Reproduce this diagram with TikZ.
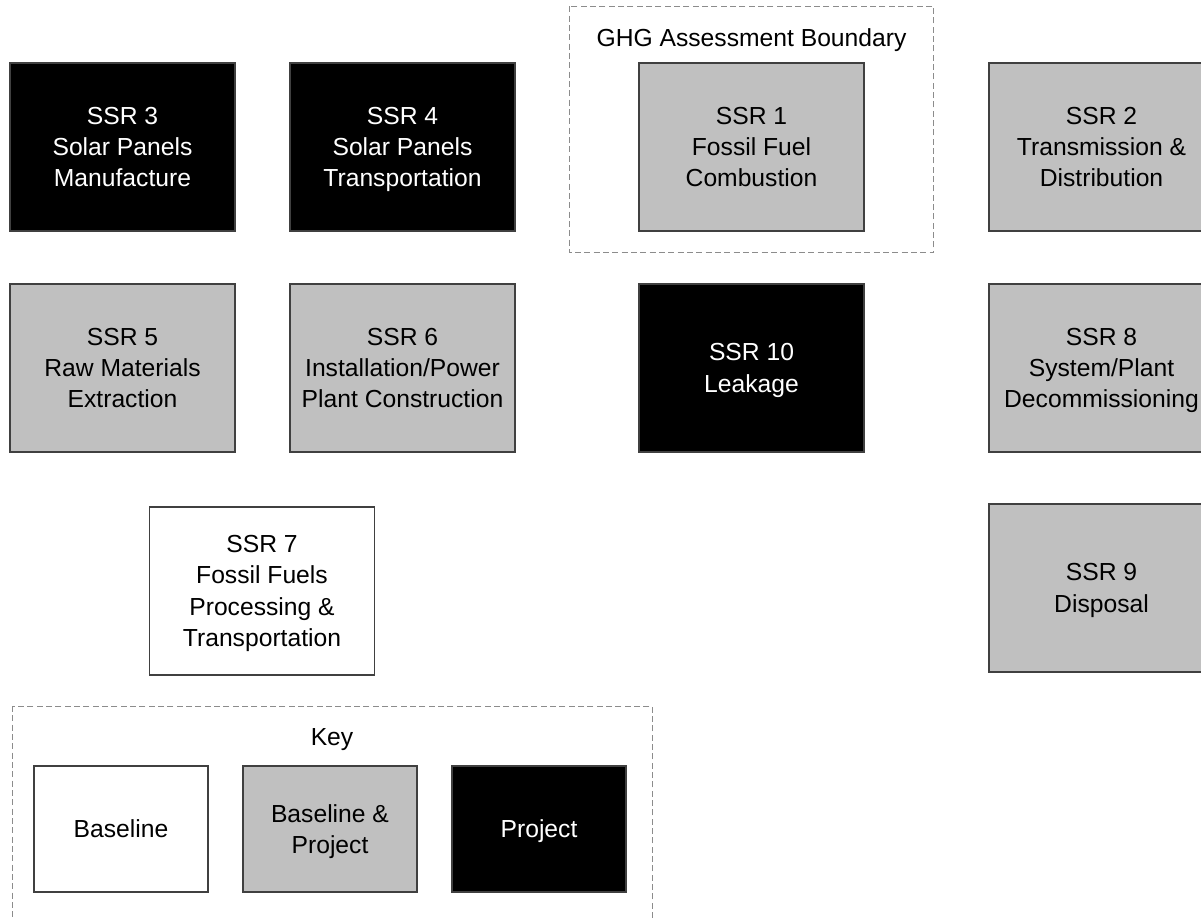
\documentclass[tikz,border=0pt]{standalone}
\usepackage{fontspec}
\setmainfont{Liberation Sans}
\usetikzlibrary{positioning}
\definecolor{boxgray}{HTML}{C0C0C0}
\definecolor{edgegray}{HTML}{404040}
\definecolor{dashgray}{HTML}{8C8C8C}
\tikzset{
  ssrbox/.style={draw=edgegray, line width=1pt, minimum width=168.75pt, minimum height=126pt,
    align=center, inner sep=0pt, text depth=0pt, font=\fontsize{18.5}{23.5}\selectfont},
  baseonly/.style={ssrbox, fill=white},
  bothbox/.style={ssrbox, fill=boxgray},
  projbox/.style={ssrbox, fill=black, text=white},
  keybox/.style={minimum width=130.5pt, minimum height=94.5pt},
  boundary/.style={draw=dashgray, dash pattern=on 4.5pt off 2.5pt, line width=.75pt}
}

\begin{document}
\begin{tikzpicture}[x=.75pt, y=-.75pt, on grid]
        \useasboundingbox (0,0) rectangle (1201,917);

        % Upper row
        %-----------------------------------------------
        \node[projbox] (s3) at (122.5,147) {SSR 3\\Solar Panels\\Manufacture};
        \node[projbox, right=210pt of s3] (s4) {SSR 4\\Solar Panels\\Transportation};
        \node[bothbox, right=261.75pt of s4] (s1) {SSR 1\\Fossil Fuel\\Combustion};
        \node[bothbox, right=262.5pt of s1] (s2) {SSR 2\\Transmission \&\\Distribution};
        \draw[boundary] ([shift={(-69,-56)}]s1.north west) rectangle ([shift={(69,21)}]s1.south east);
        \node[font=\fontsize{18.5}{23.5}\selectfont] (gbound) at (751.5,40) {GHG Assessment Boundary};

        % Middle row
        %-----------------------------------------------
        \node[bothbox, below=165.75pt of s3] (s5) {SSR 5\\Raw Materials\\Extraction};
        \node[bothbox, below=165.75pt of s4] (s6) {SSR 6\\Installation/Power\\Plant Construction};
        \node[projbox, below=165.75pt of s1] (s10) {SSR 10\\Leakage};
        \node[bothbox, below=165.75pt of s2] (s8) {SSR 8\\System/Plant\\Decommissioning};

        % Lower row
        %-----------------------------------------------
        \node[baseonly] (s7) at (262,591) {SSR 7\\Fossil Fuels\\Processing \&\\Transportation};
        \node[bothbox, below=165pt of s8] (s9) {SSR 9\\Disposal};

        % Key
        %-----------------------------------------------
        \draw[boundary] (12,706) rectangle (652,940);
        \node[font=\fontsize{18.5}{23.5}\selectfont] (key) at (332,740) {Key};
        \node[baseonly, keybox] (kbase) at (121,829) {Baseline};
        \node[bothbox, keybox, right=156.75pt of kbase] (kboth) {Baseline \&\\Project};
        \node[projbox, keybox, right=156.75pt of kboth] (kproj) {Project};
\end{tikzpicture}
\end{document}
